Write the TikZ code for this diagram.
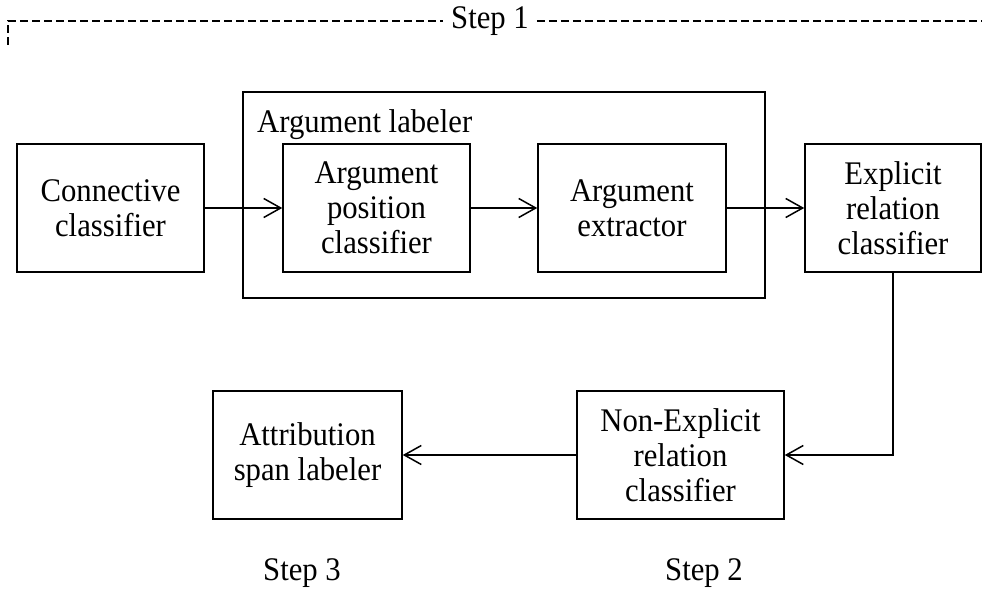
\documentclass[tikz,border=0pt]{standalone}
\usepackage{fontspec}
\setmainfont{Liberation Serif}[FakeStretch=0.93]
\usetikzlibrary{arrows.meta}
\begin{document}
\begin{tikzpicture}[x=1pt,y=-1pt,
  every node/.style={font=\fontsize{33}{35}\selectfont, align=center, inner sep=0pt},
  stage/.style={draw, line width=1.5pt, minimum height=128pt},
  link/.style={line width=1.5pt, -{Straight Barb[length=17pt,width=19pt,line width=1.5pt]}},
  guide/.style={line width=1.2pt, dash pattern=on 8pt off 4pt}]
\useasboundingbox (0,0) rectangle (982,612);

% outer group frame with its caption
\node[draw, line width=1.5pt, minimum width=522pt, minimum height=206pt] (grp) at (504,195) {};
\node[anchor=base west] (grplab) at (257,133) {Argument labeler};

% processing stages
\node[stage, minimum width=187pt] (conn) at (110.5,208) {Connective\\classifier};
\node[stage, minimum width=187pt] (pos) at (376.5,208) {Argument\\position\\classifier};
\node[stage, minimum width=188pt] (ext) at (632,208) {Argument\\extractor};
\node[stage, minimum width=176pt] (expl) at (893,208) {Explicit\\relation\\classifier};
\node[stage, minimum width=207pt] (nonexp) at (680.5,455) {Non-Explicit\\relation\\classifier};
\node[stage, minimum width=189pt] (attr) at (307.5,455) {Attribution\\span labeler};

% connectors
\draw[link] (conn) -- (pos);
\draw[link] (pos) -- (ext);
\draw[link] (ext) -- (expl);
\draw[link] (expl.south) |- (nonexp.east);
\draw[link] (nonexp) -- (attr);

% step markers
\node (s1) at (490,21) {Step 1};
\coordinate (gl) at (8,45);
\coordinate (gr) at (982,21);
\draw[guide] (gl) -- (8,21) -- ([xshift=-8pt]s1.west);
\draw[guide] ([xshift=8pt]s1.east) -- (gr);
\node (s3) at (302,573) {Step 3};
\node (s2) at (704,573) {Step 2};
\end{tikzpicture}
\end{document}
